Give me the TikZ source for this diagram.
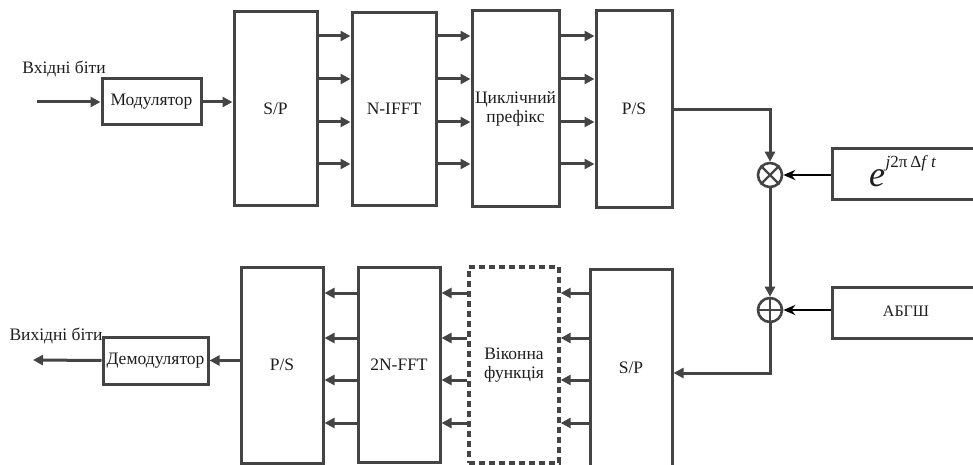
\documentclass[tikz,border=0pt]{standalone}
\usepackage{fontspec}
\setmainfont{Liberation Serif}
\usetikzlibrary{arrows.meta}
\definecolor{lc}{HTML}{444444}
\definecolor{tc}{HTML}{1E1E1E}
\tikzset{
  blk/.style={draw=lc, line width=3pt, fill=white, inner sep=0pt, text=tc,
     font=\fontsize{17.5}{19}\selectfont, align=center},
  dblk/.style={blk, line width=3.3pt, dash pattern=on 6pt off 4pt},
  conn/.style={draw=lc, line width=3pt, -{Triangle[length=10pt,width=10pt]}},
  bconn/.style={draw=black, line width=2.6pt, -{Stealth[length=12pt,width=10pt]}},
  opc/.style={circle, draw=lc, line width=2.6pt, minimum size=24pt, inner sep=0pt},
  lbl/.style={inner sep=0pt, text=tc, font=\fontsize{17.5}{19}\selectfont}
}
\begin{document}
\begin{tikzpicture}[x=1pt,y=-1pt]
\useasboundingbox (0,0) rectangle (973,465);
\clip (0,0) rectangle (973,465);
% top row
\node[blk, minimum width=83pt, minimum height=193pt] (sp1) at (275.5,108.5) {S/P};
\node[blk, minimum width=84pt, minimum height=192pt] (ifft) at (394,109) {N-IFFT};
\node[blk, minimum width=87pt, minimum height=195pt] (cp) at (515.5,108.5) {Циклічний\\[0pt]префікс};
\node[blk, minimum width=76pt, minimum height=196pt] (ps1) at (634,109) {P/S};
\node[blk, minimum width=99pt, minimum height=46pt] (mod) at (151.5,102) {Модулятор};
\coordinate (in) at (37,102);
\node[lbl] (inlbl) at (64,69) {Вхідні біти};
\draw[conn] (in) -- (mod.west);
\draw[conn] (mod.east) -- (sp1.west |- mod.east);
\foreach \y in {36,79,122,164}{
  \draw[conn] (sp1.east |- 0,\y) -- (ifft.west |- 0,\y);
  \draw[conn] (ifft.east |- 0,\y) -- (cp.west |- 0,\y);
  \draw[conn] (cp.east |- 0,\y) -- (ps1.west |- 0,\y);
}
% mixer and adder
\node[opc] (mul) at (770,175) {};
\draw[draw=lc, line width=2.4pt] (mul.north east) -- (mul.south west) (mul.north west) -- (mul.south east);
\node[opc] (add) at (770,310) {};
\draw[draw=lc, line width=2.4pt] (add.north) -- (add.south) (add.west) -- (add.east);
\node[blk, minimum width=153pt, minimum height=50pt] (ebox) at (908.5,174) {};
\node[inner sep=0pt, anchor=base west, text=tc] (etext) at (869,186)
  {\fontsize{36}{36}\selectfont\itshape e\kern0.5pt\raisebox{19pt}{\fontsize{17}{17}\selectfont j\upshape 2π\kern3pt Δ\itshape f\kern5pt t}};
\node[blk, minimum width=153pt, minimum height=51pt] (awgn) at (908.5,312.5) {};
\node[lbl, font=\fontsize{16}{18}\selectfont] (awgnt) at (906,311) {АБГШ};
\coordinate (c1) at (770,110);
\draw[conn] (ps1.east |- c1) -- (c1) -- (mul.north);
\draw[bconn] (ebox.west |- mul) -- (mul.east);
\draw[bconn] (awgn.west |- add) -- (add.east);
\draw[conn] (mul.south) -- (add.north);
% bottom row
\node[blk, minimum width=82pt, minimum height=198pt] (sp2) at (631,368) {S/P};
\node[dblk, minimum width=90pt, minimum height=196pt] (win) at (514,365) {Віконна\\[0pt]функція};
\node[blk, minimum width=82pt, minimum height=195pt] (fft2) at (399,364.5) {2N-FFT};
\node[blk, minimum width=82pt, minimum height=196pt] (ps2) at (282,365) {P/S};
\node[blk, minimum width=105pt, minimum height=47pt] (demod) at (155.5,360.5) {Демодулятор};
\coordinate (out) at (33,360);
\node[lbl] (outlbl) at (56,336) {Вихідні біти};
\coordinate (c2) at (770,373);
\draw[conn] (add.south) -- (c2) -- (sp2.east |- c2);
\foreach \y in {293,338,380,423}{
  \draw[conn] (sp2.west |- 0,\y) -- (win.east |- 0,\y);
  \draw[conn] (win.west |- 0,\y) -- (fft2.east |- 0,\y);
  \draw[conn] (fft2.west |- 0,\y) -- (ps2.east |- 0,\y);
}
\draw[conn] (ps2.west |- demod.east) -- (demod.east);
\draw[conn] (demod.west) -- (out);
\end{tikzpicture}
\end{document}
